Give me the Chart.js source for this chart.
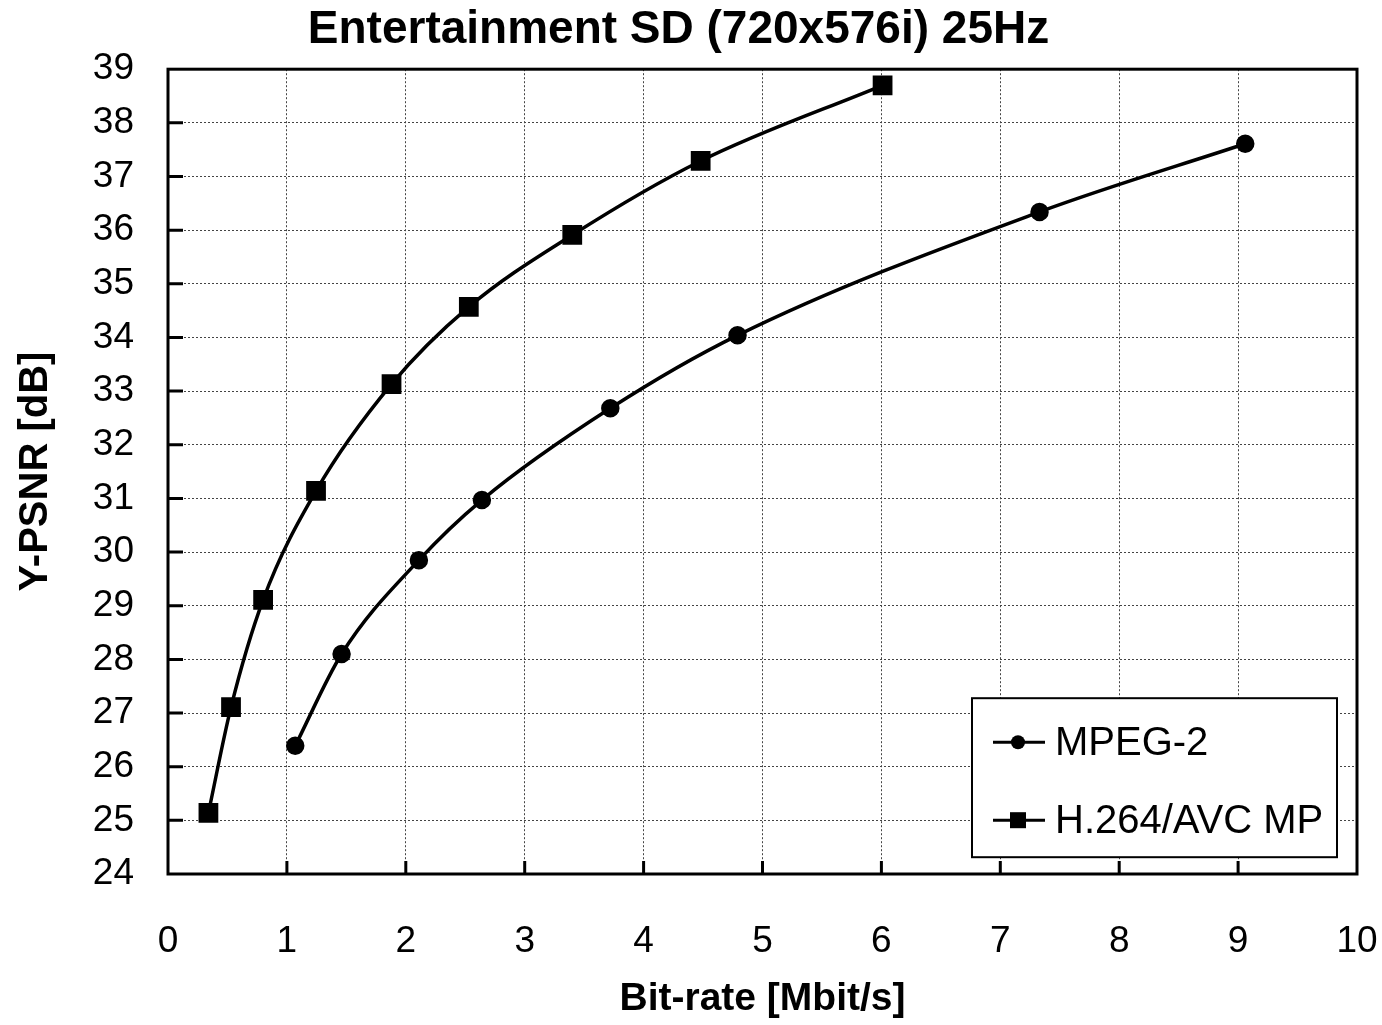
<!DOCTYPE html>
<html>
<head>
<meta charset="utf-8">
<script src="https://cdn.jsdelivr.net/npm/chart.js@4.4.1/dist/chart.umd.min.js"></script>
<style>
  html, body { margin: 0; padding: 0; background: #fff; }
  #wrap { width: 1382px; height: 1025px; }
</style>
</head>
<body>
<div id="wrap"><canvas id="rd"></canvas></div>
<script>
// rate-distortion points
var mpeg2Rate = [1.07, 1.46, 2.11, 2.64, 3.72, 4.79, 7.33, 9.06];
var mpeg2Psnr = [26.39, 28.10, 29.85, 30.97, 32.68, 34.04, 36.34, 37.61];
var avcRate = [0.34, 0.53, 0.80, 1.245, 1.88, 2.53, 3.40, 4.48, 6.01];
var avcPsnr = [25.14, 27.11, 29.11, 31.14, 33.13, 34.57, 35.91, 37.29, 38.70];
var seriesNames = ['MPEG-2', 'H.264/AVC MP'];

var FONT = "'Liberation Sans', Arial, sans-serif";

function toPoints(xs, ys) {
  return xs.map((x, i) => ({ x: x, y: ys[i] }));
}

// box round the plot, inward ticks on bottom/left, legend inside
var framePlugin = {
  id: 'frame',
  afterDraw(chart) {
    var ctx = chart.ctx;
    var a = chart.chartArea;
    var xs = chart.scales.x, ys = chart.scales.y;
    ctx.save();
    ctx.strokeStyle = '#000';
    ctx.lineWidth = 3;
    ctx.strokeRect(a.left, a.top, a.right - a.left, a.bottom - a.top);
    // inward ticks
    ctx.beginPath();
    for (var v = 1; v < 10; v++) {
      var px = xs.getPixelForValue(v);
      ctx.moveTo(px, a.bottom); ctx.lineTo(px, a.bottom - 13);
    }
    for (var w = 25; w < 39; w++) {
      var py = ys.getPixelForValue(w);
      ctx.moveTo(a.left, py); ctx.lineTo(a.left + 15, py);
    }
    ctx.stroke();

    // legend box
    var lx = a.left + 804, ly = a.top + 629, lw = 365, lh = 159;
    ctx.fillStyle = '#fff';
    ctx.fillRect(lx, ly, lw, lh);
    ctx.lineWidth = 2;
    ctx.strokeRect(lx, ly, lw, lh);
    ctx.font = '40px ' + FONT;
    ctx.textBaseline = 'middle';
    ctx.textAlign = 'left';
    var rows = [ly + 44, ly + 122];
    seriesNames.forEach((name, i) => {
      var y = rows[i];
      ctx.strokeStyle = '#000';
      ctx.lineWidth = 3;
      ctx.beginPath();
      ctx.moveTo(lx + 21, y); ctx.lineTo(lx + 73, y);
      ctx.stroke();
      ctx.fillStyle = '#000';
      if (i === 0) {
        ctx.beginPath(); ctx.arc(lx + 46, y, 7, 0, Math.PI * 2); ctx.fill();
      } else {
        ctx.fillRect(lx + 38, y - 8, 16, 16);
      }
      ctx.fillText(name, lx + 83, y + 2);
    });
    ctx.restore();
  }
};

var chart = new Chart(document.getElementById('rd'), {
  type: 'scatter',
  data: {
    datasets: [
      {
        label: seriesNames[0],
        data: toPoints(mpeg2Rate, mpeg2Psnr),
        showLine: true,
        borderColor: '#000',
        backgroundColor: '#000',
        borderWidth: 3.5,
        tension: 0.4,
        cubicInterpolationMode: 'monotone',
        pointStyle: 'circle',
        pointRadius: 7.5,
        pointHoverRadius: 7.5
      },
      {
        label: seriesNames[1],
        data: toPoints(avcRate, avcPsnr),
        showLine: true,
        borderColor: '#000',
        backgroundColor: '#000',
        borderWidth: 3.5,
        tension: 0.4,
        cubicInterpolationMode: 'monotone',
        pointStyle: 'rect',
        pointRadius: 11.5,
        pointHoverRadius: 11.5
      }
    ]
  },
  options: {
    responsive: true,
    maintainAspectRatio: false,
    animation: false,
    layout: { padding: { left: 0, right: 25, top: 0, bottom: 0 } },
    plugins: {
      legend: { display: false },
      tooltip: { enabled: false },
      title: {
        display: true,
        text: 'Entertainment SD (720x576i) 25Hz',
        color: '#000',
        font: { family: FONT, size: 46, weight: 'bold', lineHeight: 1.2 },
        padding: { top: 3, bottom: 11 }
      }
    },
    scales: {
      x: {
        type: 'linear',
        min: 0, max: 10,
        ticks: { stepSize: 1, color: '#000', padding: 46, font: { family: FONT, size: 37 } },
        grid: { color: '#444', lineWidth: 1, drawTicks: false, tickLength: 0 },
        border: { display: false, dash: [2, 2] },
        title: { display: true, text: 'Bit-rate [Mbit/s]', color: '#000', padding: { top: 4, bottom: 2 },
                 font: { family: FONT, size: 39, weight: 'bold' } },
        afterFit(scale) { scale.height = 151; scale.paddingRight = 0; scale.paddingLeft = 0; }
      },
      y: {
        min: 24, max: 39,
        ticks: { stepSize: 1, color: '#000', padding: 34, font: { family: FONT, size: 37 } },
        grid: { color: '#444', lineWidth: 1, drawTicks: false, tickLength: 0 },
        border: { display: false, dash: [2, 2] },
        title: { display: true, text: 'Y-PSNR [dB]', color: '#000', padding: { top: 12, bottom: 0 },
                 font: { family: FONT, size: 40, weight: 'bold' } },
        afterFit(scale) { scale.width = 168; scale.paddingTop = 0; scale.paddingBottom = 0; }
      }
    }
  },
  plugins: [framePlugin]
});
</script>
</body>
</html>
